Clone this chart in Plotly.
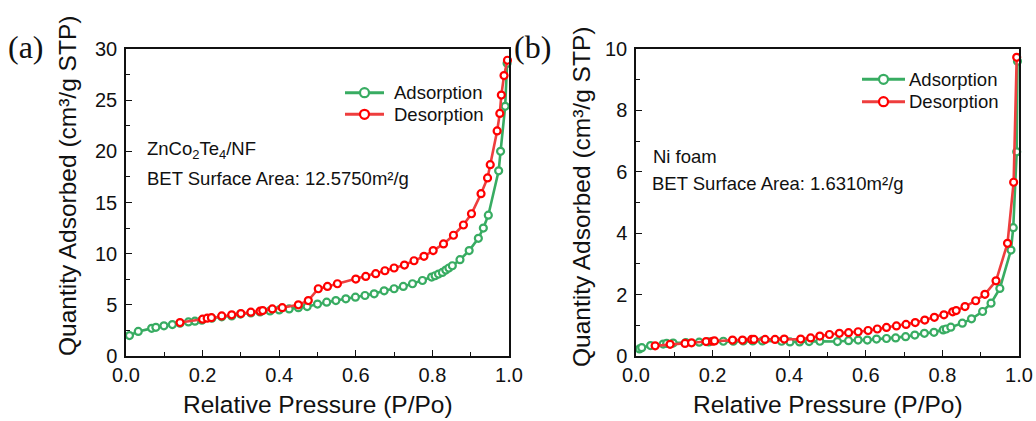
import plotly.graph_objects as go
from plotly.subplots import make_subplots

# ---- ZnCo2Te4/NF isotherm ----
ads_a_p = [0.009, 0.032, 0.067, 0.078, 0.099, 0.121, 0.141, 0.163, 0.180, 0.198,
           0.224, 0.250, 0.276, 0.299, 0.326, 0.350, 0.376, 0.400, 0.426, 0.450,
           0.473, 0.500, 0.524, 0.548, 0.574, 0.599, 0.624, 0.648, 0.674, 0.700,
           0.724, 0.748, 0.774, 0.798, 0.807, 0.816, 0.826, 0.835, 0.843, 0.852,
           0.872, 0.896, 0.920, 0.933, 0.946, 0.973, 0.978, 0.990, 0.995]
ads_a_q = [2.0, 2.4, 2.7, 2.8, 2.95, 3.07, 3.2, 3.33, 3.4, 3.5,
           3.7, 3.83, 3.92, 4.1, 4.2, 4.3, 4.4, 4.5, 4.6, 4.72,
           4.83, 5.07, 5.26, 5.42, 5.59, 5.75, 5.91, 6.08, 6.37, 6.57,
           6.8, 7.06, 7.38, 7.71, 7.84, 8.01, 8.17, 8.4, 8.6, 8.82,
           9.41, 10.3, 11.5, 12.5, 13.76, 18.1, 20.0, 24.4, 28.6]
des_a_p = [0.141, 0.200, 0.212, 0.223, 0.250, 0.276, 0.300, 0.326, 0.350, 0.357,
           0.382, 0.408, 0.450, 0.476, 0.502, 0.526, 0.552, 0.600, 0.626, 0.652,
           0.676, 0.700, 0.727, 0.752, 0.778, 0.802, 0.829, 0.855, 0.881, 0.902,
           0.927, 0.944, 0.951, 0.969, 0.976, 0.980, 0.987, 0.996]
des_a_q = [3.27, 3.6, 3.7, 3.75, 3.92, 4.02, 4.15, 4.28, 4.38, 4.44,
           4.6, 4.72, 5.0, 5.42, 6.57, 6.8, 7.06, 7.52, 7.78, 8.04,
           8.33, 8.6, 8.89, 9.31, 9.74, 10.3, 10.95, 11.8, 12.8, 13.9,
           15.86, 17.4, 18.7, 21.99, 23.7, 25.5, 27.4, 28.9]

# ---- Ni foam isotherm ----
ads_b_p = [0.009, 0.015, 0.038, 0.071, 0.080, 0.097, 0.130, 0.165, 0.190, 0.228,
           0.254, 0.280, 0.305, 0.330, 0.380, 0.402, 0.427, 0.452, 0.480, 0.526,
           0.555, 0.580, 0.604, 0.628, 0.654, 0.678, 0.704, 0.728, 0.753, 0.778,
           0.802, 0.810, 0.822, 0.852, 0.876, 0.905, 0.927, 0.950, 0.979, 0.985,
           0.994, 0.996]
ads_b_q = [0.23, 0.27, 0.34, 0.39, 0.41, 0.42, 0.44, 0.45, 0.46, 0.48,
           0.48, 0.49, 0.49, 0.49, 0.48, 0.46, 0.46, 0.47, 0.48, 0.47,
           0.50, 0.52, 0.52, 0.55, 0.57, 0.59, 0.63, 0.68, 0.74, 0.77,
           0.85, 0.88, 0.94, 1.07, 1.21, 1.45, 1.72, 2.2, 3.45, 4.18,
           6.65, 9.6]
des_b_p = [0.050, 0.089, 0.128, 0.145, 0.183, 0.200, 0.205, 0.252, 0.278, 0.302,
           0.308, 0.337, 0.363, 0.387, 0.430, 0.456, 0.480, 0.505, 0.531, 0.555,
           0.580, 0.606, 0.630, 0.654, 0.680, 0.705, 0.729, 0.754, 0.779, 0.804,
           0.827, 0.836, 0.859, 0.887, 0.911, 0.940, 0.970, 0.986, 0.994]
des_b_q = [0.33, 0.38, 0.41, 0.43, 0.47, 0.48, 0.49, 0.52, 0.52, 0.54,
           0.54, 0.54, 0.54, 0.55, 0.55, 0.59, 0.65, 0.70, 0.74, 0.76,
           0.79, 0.83, 0.88, 0.93, 0.98, 1.03, 1.09, 1.17, 1.26, 1.34,
           1.44, 1.48, 1.61, 1.80, 2.01, 2.45, 3.67, 5.66, 9.73]

series_names = ["Adsorption", "Desorption"]
x_ticks = [0.0, 0.2, 0.4, 0.6, 0.8, 1.0]
y_ticks_a = [0, 5, 10, 15, 20, 25, 30]
y_ticks_b = [0, 2, 4, 6, 8, 10]

W, H = 1036, 421
GREEN = "rgb(56,172,98)"
RED_LINE = "rgb(238,62,62)"
RED_MK = "rgb(255,0,0)"
SANS = "Arial, Liberation Sans, sans-serif"
SERIF = "Times New Roman, Liberation Serif, serif"

fig = make_subplots(rows=1, cols=2)

def add_series(p, q, line_col, mk_col, name, col):
    fig.add_trace(go.Scatter(
        x=p, y=q, mode="lines+markers", name=name, showlegend=False,
        line=dict(color=line_col, width=2.6),
        marker=dict(symbol="circle", size=7, color="white",
                    line=dict(color=mk_col, width=2.2)),
        cliponaxis=False,
    ), row=1, col=col)

add_series(ads_a_p, ads_a_q, GREEN, GREEN, series_names[0], 1)
add_series(des_a_p, des_a_q, RED_LINE, RED_MK, series_names[1], 1)
add_series(ads_b_p, ads_b_q, GREEN, GREEN, series_names[0], 2)
add_series(des_b_p, des_b_q, RED_LINE, RED_MK, series_names[1], 2)

def px(x):
    return x / W

def py(y):
    return 1 - y / H

axis_common = dict(
    showline=True, linecolor="#111", linewidth=1.5, mirror=True,
    ticks="inside", ticklen=6, tickwidth=1.2, tickcolor="#111",
    showgrid=False, zeroline=False, automargin=False,
    tickfont=dict(family=SANS, size=20, color="#111"),
)

fig.update_xaxes(**axis_common, range=[0, 1], tickvals=x_ticks,
                 ticktext=[f"{v:.1f}" for v in x_ticks],
                 minor=dict(dtick=0.1, ticks="inside", ticklen=4, tickcolor="#111"),
                 ticklabelstandoff=0)
fig.update_xaxes(domain=[px(126), px(509)], row=1, col=1)
fig.update_xaxes(domain=[px(636), px(1019)], row=1, col=2)

fig.update_yaxes(**axis_common, ticklabelstandoff=3)
fig.update_yaxes(range=[0, 30], tickvals=y_ticks_a, domain=[py(356), py(49)],
                 minor=dict(dtick=2.5, ticks="inside", ticklen=4, tickcolor="#111"),
                 row=1, col=1)
fig.update_yaxes(range=[0, 10], tickvals=y_ticks_b, domain=[py(356), py(49)],
                 minor=dict(dtick=1, ticks="inside", ticklen=4, tickcolor="#111"),
                 row=1, col=2)

annotations = []
shapes = []

def text(x, y, s, size, family=SANS, angle=0, xanchor="left"):
    annotations.append(dict(
        x=px(x), y=py(y), xref="paper", yref="paper", text=s, showarrow=False,
        xanchor=xanchor, yanchor="middle", textangle=angle,
        font=dict(family=family, size=size, color="#111"),
    ))

# axis titles
y_title = "Quantity Adsorbed (cm³/g STP)"
x_title = "Relative Pressure (P/Po)"
text(68, 186, y_title, 24.5, angle=-90, xanchor="center")
text(581, 197, y_title, 24.5, angle=-90, xanchor="center")
text(317.5, 404, x_title, 24.5, xanchor="center")
text(827.5, 404, x_title, 24.5, xanchor="center")

# panel labels
text(6, 47, "(a)", 32, family=SERIF)
text(512, 47, "(b)", 32, family=SERIF)

# sample notes
text(145, 150, "ZnCo<sub>2</sub>Te<sub>4</sub>/NF", 18.5)
text(145, 178, "BET Surface Area: 12.5750m²/g", 18.5)
text(651, 156, "Ni foam", 18.5)
text(650, 183, "BET Surface Area: 1.6310m²/g", 18.5)

# legend keys
def legend_key(x0, x1, y, line_col, mk_col, label, tx):
    shapes.append(dict(type="line", xref="paper", yref="paper",
                       x0=px(x0), x1=px(x1), y0=py(y), y1=py(y),
                       line=dict(color=line_col, width=3)))
    xc = (x0 + x1) / 2
    shapes.append(dict(type="circle", xref="paper", yref="paper",
                       xsizemode="pixel", ysizemode="pixel",
                       xanchor=px(xc), yanchor=py(y),
                       x0=-4.5, x1=4.5, y0=-4.5, y1=4.5,
                       fillcolor="white", line=dict(color=mk_col, width=2.2)))
    text(tx, y, label, 18.5)

legend_key(345, 384, 92.7, GREEN, GREEN, series_names[0], 392)
legend_key(345, 384, 114.3, RED_LINE, RED_MK, series_names[1], 392)
legend_key(862, 905, 79.3, GREEN, GREEN, series_names[0], 907)
legend_key(862, 905, 101.7, RED_LINE, RED_MK, series_names[1], 907)

fig.update_layout(
    width=W, height=H,
    margin=dict(l=0, r=0, t=0, b=0, pad=0, autoexpand=False),
    paper_bgcolor="white", plot_bgcolor="white",
    showlegend=False,
    annotations=annotations, shapes=shapes,
)

fig.write_html("out.html")
